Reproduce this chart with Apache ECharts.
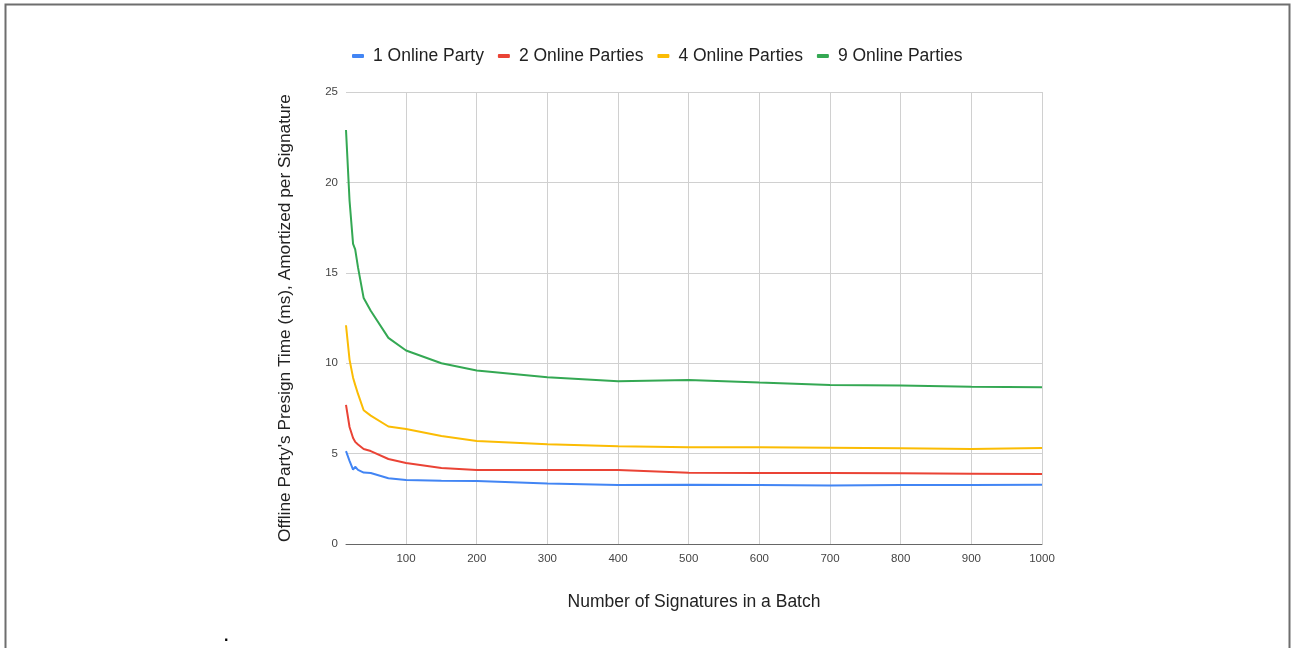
<!DOCTYPE html>
<html>
<head>
<meta charset="utf-8">
<script src="https://cdn.jsdelivr.net/npm/echarts@6/dist/echarts.min.js"></script>
<style>
html,body{margin:0;padding:0;background:#fff;}
#chart{width:1291px;height:648px;}
</style>
</head>
<body>
<div id="chart"></div>
<script>
const batchSizes = [15, 20, 25, 28, 32, 40, 50, 75, 100, 150, 200, 300, 400, 500, 600, 700, 800, 900, 1000];
const seriesNames = ['1 Online Party', '2 Online Parties', '4 Online Parties', '9 Online Parties'];
const oneParty   = [5.14, 4.6, 4.12, 4.27, 4.1, 3.95, 3.93, 3.64, 3.54, 3.5, 3.48, 3.35, 3.26, 3.28, 3.26, 3.24, 3.26, 3.26, 3.28];
const twoParty   = [7.69, 6.47, 5.86, 5.65, 5.5, 5.25, 5.14, 4.70, 4.48, 4.2, 4.09, 4.09, 4.09, 3.94, 3.93, 3.93, 3.91, 3.89, 3.87];
const fourParty  = [12.1, 10.2, 9.2, 8.8, 8.3, 7.4, 7.1, 6.5, 6.36, 5.97, 5.70, 5.52, 5.41, 5.35, 5.35, 5.33, 5.30, 5.26, 5.31];
const nineParty  = [22.9, 19.0, 16.6, 16.3, 15.3, 13.6, 12.9, 11.4, 10.7, 10.0, 9.6, 9.22, 9.0, 9.07, 8.93, 8.8, 8.76, 8.7, 8.67];
const xTicks = [100, 200, 300, 400, 500, 600, 700, 800, 900, 1000];
const colors = ['#4285F4', '#EA4335', '#FBBC04', '#34A853'];
const FONT = 'Arial, "Liberation Sans", sans-serif';

const allData = [oneParty, twoParty, fourParty, nineParty];
const chart = echarts.init(document.getElementById('chart'), null, {renderer: 'canvas'});
chart.setOption({
  animation: false,
  color: colors,
  textStyle: {fontFamily: FONT},
  grid: {left: 346, right: 249, top: 92, bottom: 104, containLabel: false},
  legend: {
    top: 42, left: 347,
    icon: 'roundRect', itemWidth: 12, itemHeight: 4, itemGap: 14,
    textStyle: {fontSize: 17.5, color: '#222', fontFamily: FONT, padding: [0, 0, 0, 4]},
    data: seriesNames
  },
  xAxis: {
    type: 'value', min: batchSizes[0], max: 1000,
    name: 'Number of Signatures in a Batch', nameLocation: 'middle', nameGap: 49,
    nameTextStyle: {fontSize: 17.5, color: '#222', fontFamily: FONT},
    axisLine: {show: true, lineStyle: {color: '#666', width: 1}},
    axisTick: {show: false, customValues: xTicks},
    axisLabel: {customValues: xTicks, fontSize: 11.5, color: '#444', margin: 9, fontFamily: FONT,
      formatter: v => String(v)},
    splitLine: {show: true, lineStyle: {color: '#d0d0d0', width: 1}}
  },
  yAxis: {
    type: 'value', min: 0, max: 25, interval: 5,
    name: "Offline Party's Presign Time (ms), Amortized per Signature",
    nameLocation: 'middle', nameGap: 52,
    nameTextStyle: {fontSize: 17.3, color: '#222', fontFamily: FONT},
    axisLine: {show: false}, axisTick: {show: false},
    axisLabel: {fontSize: 11.5, color: '#444', margin: 8, fontFamily: FONT},
    splitLine: {show: true, lineStyle: {color: '#d0d0d0', width: 1}}
  },
  series: seriesNames.map((n, i) => ({
    name: n, type: 'line', showSymbol: false, symbol: 'none',
    lineStyle: {width: 2, color: colors[i]},
    data: batchSizes.map((x, j) => [x, allData[i][j]])
  })),
  graphic: [
    {type: 'rect', shape: {x: 5.5, y: 4.5, width: 1284, height: 700},
     style: {fill: 'none', stroke: '#6e6e6e', lineWidth: 2}, silent: true},
    {type: 'text', left: 224, top: 629, style: {text: '.', font: 'bold 16px ' + FONT, fill: '#000'}}
  ]
});
</script>
</body>
</html>
